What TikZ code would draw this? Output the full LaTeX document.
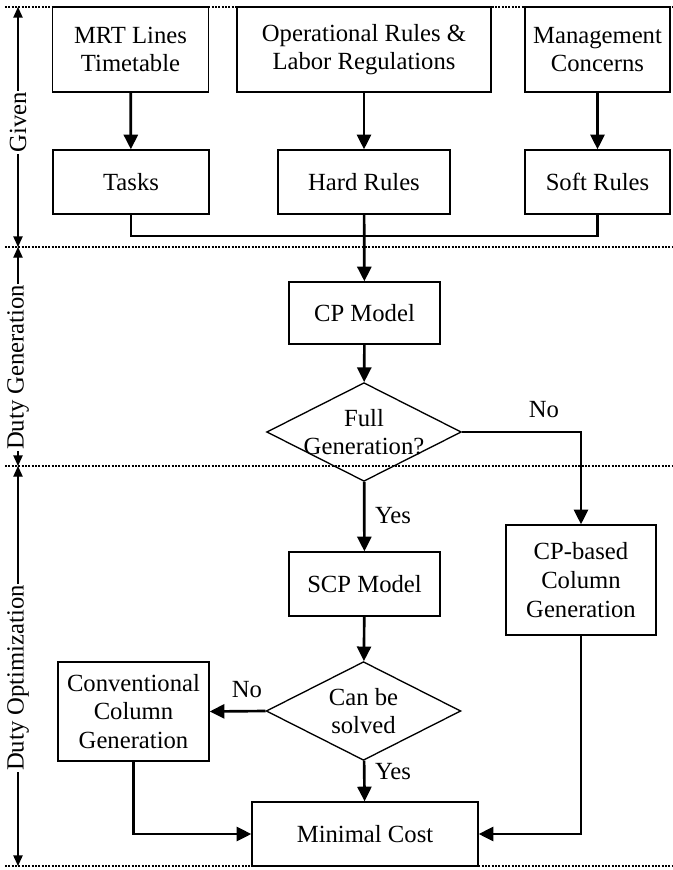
\documentclass[tikz,border=0pt]{standalone}
\usepackage{fontspec}
\setmainfont{Liberation Serif}
\usepackage{tikz}
\usetikzlibrary{arrows.meta}
\usetikzlibrary{shapes}
\tikzset{
  every node/.style={font=\fontsize{18.5}{21.5}\selectfont},
  stepbox/.style={rectangle,draw,line width=1pt,align=center,inner sep=2pt},
  decision/.style={diamond,draw,line width=1pt,inner sep=0pt,minimum width=146pt,minimum height=74pt},
  flow/.style={line width=2pt,-{Triangle[length=11pt,width=10.5pt]}},
  link/.style={line width=2pt},
  sepline/.style={line width=1pt,dash pattern=on 1.5pt off 1pt},
  dim/.style={line width=1pt,{Triangle[length=8pt,width=7pt]}-{Triangle[length=8pt,width=7pt]}},
  phase/.style={fill=white,rotate=90,inner sep=1pt}
}
\newcommand{\stepnode}{\node[stepbox]}
\newcommand{\decnode}{\node[decision]}

\begin{document}
\begin{tikzpicture}[x=0.75pt,y=-0.75pt]
      \useasboundingbox (0,0) rectangle (672,870);
      % phases
      \foreach \y in {7,247,466,866} \draw[sepline] (5,\y) -- (672,\y);
      \coordinate (p0) at (18,7);
      \coordinate (p1) at (18,247);
      \coordinate (p2) at (18,466);
      \coordinate (p3) at (18,866);
      \draw[dim] (p0) -- node[phase,pos=0.48] {Given} (p1);
      \draw[dim] (p1) -- node[phase,pos=0.55] {Duty Generation} (p2);
      \draw[dim] (p2) -- node[phase,pos=0.53] {Duty Optimization} (p3);
      % given
      \stepnode[minimum width=117pt,minimum height=63.75pt] (mrt) at (130.5,49.5) {MRT Lines\\Timetable}; %
      \stepnode[minimum width=190.5pt,minimum height=63.75pt] (ops) at (364,49.5) {Operational Rules \&\\Labor Regulations}; %
      \stepnode[minimum width=108.75pt,minimum height=63.75pt] (mgmt) at (597.5,49.5) {Management\\Concerns}; %
      \stepnode[minimum width=117pt,minimum height=48pt] (tasks) at (131,182) {Tasks}; %
      \stepnode[minimum width=129pt,minimum height=48pt] (hard) at (364,182) {Hard Rules}; %
      \stepnode[minimum width=108.75pt,minimum height=48pt] (soft) at (597.5,182) {Soft Rules}; %
      \coordinate (merge) at (364,236);
      % generation
      \stepnode[minimum width=113.25pt,minimum height=46.5pt] (cp) at (364.5,313) {CP Model}; %
      \decnode[label={[align=center]center:Full\\Generation?}] (full) at (364,432) {}; %
      \stepnode[minimum width=112.5pt,minimum height=82.5pt] (cpcg) at (581,580) {CP-based\\Column\\Generation}; %
      % optimization
      \stepnode[minimum width=113.25pt,minimum height=48pt] (scp) at (364.5,584) {SCP Model}; %
      \decnode[label={[align=center]center:Can be\\solved}] (solved) at (363.5,711) {}; %
      \stepnode[minimum width=113.25pt,minimum height=74.25pt] (conv) at (133.5,711.5) {Conventional\\Column\\Generation}; %
      \stepnode[minimum width=169.5pt,minimum height=48pt] (cost) at (365,834) {Minimal Cost}; %
      \node (nofull) at (544,410) {No};
      \node (yesfull) at (393,516) {Yes};
      \node (nosolved) at (247,690) {No};
      \node (yessolved) at (393,772) {Yes};
      \draw[flow] (mrt) -- (tasks);
      \draw[flow] (ops) -- (hard);
      \draw[flow] (mgmt) -- (soft);
      \draw[link] (tasks.south) |- (merge) -| (soft.south);
      \draw[flow] (hard) -- (cp);
      \draw[flow] (cp) -- (full);
      \draw[flow] (full.east) -| (cpcg.north);
      \draw[flow] (full) -- (scp);
      \draw[flow] (scp) -- (solved);
      \draw[flow] (solved.west) -- (conv.east);
      \draw[flow] (solved) -- (cost);
      \draw[flow] (conv.south) |- (cost.west);
      \draw[flow] (cpcg.south) |- (cost.east);
    \end{tikzpicture}
\end{document}
